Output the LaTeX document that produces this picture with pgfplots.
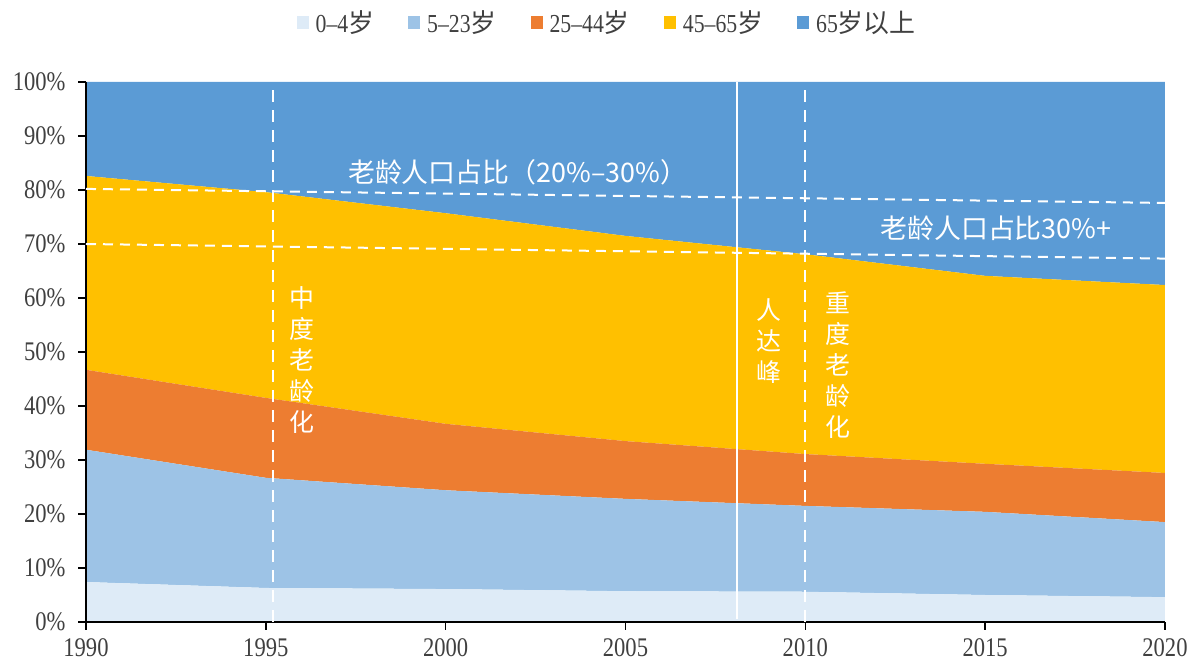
\documentclass[border=0pt]{standalone}
\usepackage{fontspec}
\setmainfont{Liberation Serif}[FakeStretch=0.84]
\newfontfamily\cjk{Noto Sans CJK SC}
\usepackage{pgfplots}
\pgfplotsset{compat=1.18}
\definecolor{c1}{HTML}{DEEBF7}
\definecolor{c2}{HTML}{9DC3E6}
\definecolor{c3}{HTML}{ED7D31}
\definecolor{c4}{HTML}{FFC000}
\definecolor{c5}{HTML}{5B9BD5}
\definecolor{tk}{HTML}{404040}
\begin{document}
\begin{tikzpicture}
\begin{axis}[
  scale only axis, width=1079bp, height=540bp,
  xmin=1990, xmax=2020, ymin=0, ymax=100,
  stack plots=y,
  axis on top,
  axis x line*=bottom, axis y line*=left,
  axis line style={black, line width=1.5bp, -},
  xtick={1990,1995,...,2020},
  ytick={0,10,...,100},
  /pgf/number format/1000 sep={},
  /pgf/number format/assume math mode=true,
  yticklabel={\pgfmathprintnumber{\tick}\%},
  tick label style={font=\fontsize{27}{27}\selectfont, text=tk},
  y tick label style={xshift=-9bp},
  x tick label style={yshift=-5bp},
  tick align=outside,
  major tick length=8bp,
  tick style={black, line width=1.5bp},
  legend columns=5,
  legend style={at={(rel axis cs:0.483,1.111)}, anchor=center, draw=none, fill=none,
    font=\fontsize{26}{26}\selectfont, text=tk,
    /tikz/every odd column/.append style={column sep=5bp},
    /tikz/every even column/.append style={column sep=32bp}},
  legend image code/.code={\fill[#1] (0bp,-7bp) rectangle (12bp,6bp);},
]
\addplot[fill=c1, draw=none] coordinates {(1990,7.4) (1995,6.3) (2000,6.1) (2005,5.7) (2010,5.6) (2015,5.0) (2020,4.6)} \closedcycle;
\addplot[fill=c2, draw=none] coordinates {(1990,24.5) (1995,20.4) (2000,18.3) (2005,17.1) (2010,15.9) (2015,15.4) (2020,13.9)} \closedcycle;
\addplot[fill=c3, draw=none] coordinates {(1990,14.8) (1995,14.8) (2000,12.3) (2005,10.7) (2010,9.6) (2015,8.9) (2020,9.1)} \closedcycle;
\addplot[fill=c4, draw=none] coordinates {(1990,35.9) (1995,38.1) (2000,39.0) (2005,38.0) (2010,37.0) (2015,34.8) (2020,34.8)} \closedcycle;
\addplot[fill=c5, draw=none] coordinates {(1990,17.4) (1995,20.4) (2000,24.3) (2005,28.5) (2010,31.9) (2015,35.9) (2020,37.6)} \closedcycle;
\legend{0–4{\cjk 岁}, 5–23{\cjk 岁}, 25–44{\cjk 岁}, 45–65{\cjk 岁}, 65{\cjk 岁以上}}
\coordinate (h1a) at (axis cs:1990,80.2);
\coordinate (h1b) at (axis cs:2020,77.6);
\coordinate (h2a) at (axis cs:1990,70.0);
\coordinate (h2b) at (axis cs:2020,67.3);
\coordinate (v1a) at (axis cs:1995.2,0);
\coordinate (v1b) at (axis cs:1995.2,100);
\coordinate (v2a) at (axis cs:2010,0);
\coordinate (v2b) at (axis cs:2010,100);
\coordinate (v3a) at (axis cs:2008.1,0.5);
\coordinate (v3b) at (axis cs:2008.1,100);
\coordinate (t1) at (axis cs:2002.0,83.3);
\coordinate (t2) at (axis cs:2015.3,73.0);
\coordinate (t3) at (axis cs:1996.0,48.5);
\coordinate (t4) at (axis cs:2009.0,52.0);
\coordinate (t5) at (axis cs:2010.9,47.6);
\end{axis}
\draw[white, line width=2bp, dash pattern=on 10bp off 7bp] (h1a) -- (h1b);
\draw[white, line width=2bp, dash pattern=on 10bp off 7bp] (h2a) -- (h2b);
\draw[white, line width=2bp, dash pattern=on 12bp off 8bp] (v1a) -- (v1b);
\draw[white, line width=2bp, dash pattern=on 12bp off 8bp] (v2a) -- (v2b);
\draw[white, line width=2bp] (v3a) -- (v3b);
\node[white, font=\cjk\fontsize{27}{27}\selectfont] at (t1) {老龄人口占比（20\%–30\%）};
\node[white, font=\cjk\fontsize{27}{27}\selectfont] at (t2) {老龄人口占比30\%+};
\node[white, align=center, font=\cjk\fontsize{25}{31}\selectfont] at (t3) {中\\度\\老\\龄\\化};
\node[white, align=center, font=\cjk\fontsize{25}{31}\selectfont] at (t4) {人\\达\\峰};
\node[white, align=center, font=\cjk\fontsize{25}{31}\selectfont] at (t5) {重\\度\\老\\龄\\化};
\pgfresetboundingbox
\path[use as bounding box] (-86bp,-40bp) rectangle (1109bp,622bp);
\end{tikzpicture}
\end{document}
